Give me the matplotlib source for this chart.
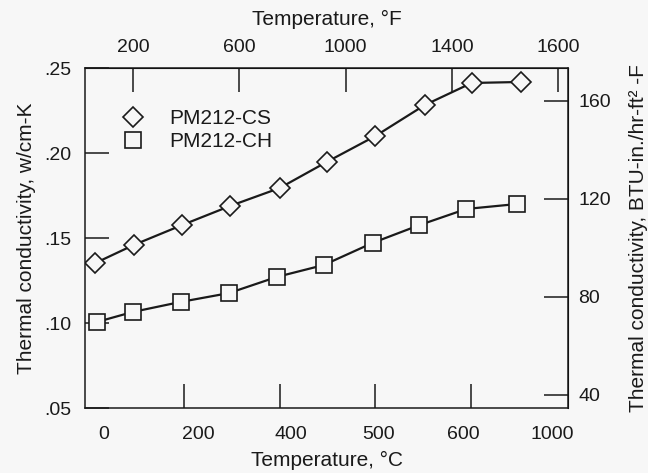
import matplotlib
matplotlib.use("Agg")
import matplotlib.pyplot as plt
from matplotlib.lines import Line2D

plt.rcParams['font.family'] = ['Liberation Sans', 'DejaVu Sans']

# temperatures in C and thermal conductivity in w/cm-K
temp_cs = [15, 95, 195, 296, 400, 498, 600, 703, 801, 905]
k_cs = [0.1353, 0.1459, 0.1575, 0.1688, 0.1794, 0.1947, 0.2100, 0.2282, 0.2412, 0.2418]
temp_ch = [18, 93, 193, 294, 394, 492, 594, 692, 790, 896]
k_ch = [0.1006, 0.1065, 0.1124, 0.1176, 0.1271, 0.1341, 0.1471, 0.1576, 0.1671, 0.1700]

# tick labels as printed (the scan has them shifted off the tick marks)
c_label_pos = [33, 231, 423, 606, 784, 970]
c_labels = ["0", "200", "400", "500", "600", "1000"]
c_ticks = [200, 400, 600, 800]
f_ticks = [200, 600, 1000, 1400, 1800]
f_labels = ["200", "600", "1000", "1400", "1600"]
k_ticks = [0.05, 0.10, 0.15, 0.20, 0.25]
k_labels = [".05", ".10", ".15", ".20", ".25"]
btu_ticks = [40, 80, 120, 160]

W_TO_BTU = 693.5
ink = "#1a1a1a"
bg = "#f7f7f7"
tl = 17
fs_tick = 14
fs_lab = 15

fig = plt.figure(figsize=(6.48, 4.73), dpi=100, facecolor=bg)
ax = fig.add_axes([0.131, 0.1374, 0.746, 0.7188], facecolor=bg)

ax.plot(temp_cs, k_cs, color=ink, lw=1.6, marker="D", ms=10.5,
        mfc=bg, mec=ink, mew=1.2)
ax.plot(temp_ch, k_ch, color=ink, lw=1.6, marker="s", ms=11,
        mfc=bg, mec=ink, mew=1.2)

ax.set_xlim(-7, 1003)
ax.set_ylim(0.05, 0.25)

for s in ax.spines.values():
    s.set_color(ink)
    s.set_linewidth(1.1)

ax.set_xticks(c_label_pos)
ax.set_xticklabels(c_labels)
ax.set_xticks(c_ticks, minor=True)
ax.tick_params(axis="x", which="major", length=0, pad=13, labelsize=fs_tick, colors=ink)
ax.tick_params(axis="x", which="minor", direction="in", length=tl, width=1.1, color=ink)
ax.set_xlabel("Temperature, °C", fontsize=fs_lab, color=ink, labelpad=6)

ax.set_yticks(k_ticks)
ax.set_yticklabels(k_labels)
ax.tick_params(axis="y", direction="in", length=tl, width=1.1, pad=10,
               labelsize=fs_tick, colors=ink)
ax.set_ylabel("Thermal conductivity, w/cm-K", fontsize=fs_lab, color=ink, labelpad=6)

top = ax.secondary_xaxis("top", functions=(lambda c: c * 9 / 5 + 32,
                                           lambda f: (f - 32) * 5 / 9))
top.set_xticks(f_ticks)
top.set_xticklabels(f_labels)
top.tick_params(direction="in", length=tl, width=1.1, pad=9, labelsize=fs_tick, colors=ink)
top.set_xlabel("Temperature, °F", fontsize=fs_lab, color=ink, labelpad=10)

right = ax.secondary_yaxis("right", functions=(lambda k: k * W_TO_BTU,
                                               lambda b: b / W_TO_BTU))
right.set_yticks(btu_ticks)
right.tick_params(direction="in", length=tl, width=1.1, pad=7, labelsize=fs_tick, colors=ink)
right.set_ylabel("Thermal conductivity, BTU-in./hr-ft² -F", fontsize=fs_lab,
                 color=ink, labelpad=13)

handles = [
    Line2D([], [], ls="none", marker="D", ms=10.5, mfc=bg, mec=ink, mew=1.2),
    Line2D([], [], ls="none", marker="s", ms=11, mfc=bg, mec=ink, mew=1.2),
]
ax.legend(handles, ["PM212-CS", "PM212-CH"], loc="upper left",
          bbox_to_anchor=(0.056, 0.88), frameon=False, fontsize=fs_lab,
          borderaxespad=0, borderpad=0, handlelength=2.0, handletextpad=0.73,
          labelspacing=0.22, labelcolor=ink)

fig.savefig("out.png", dpi=100, facecolor=bg)
